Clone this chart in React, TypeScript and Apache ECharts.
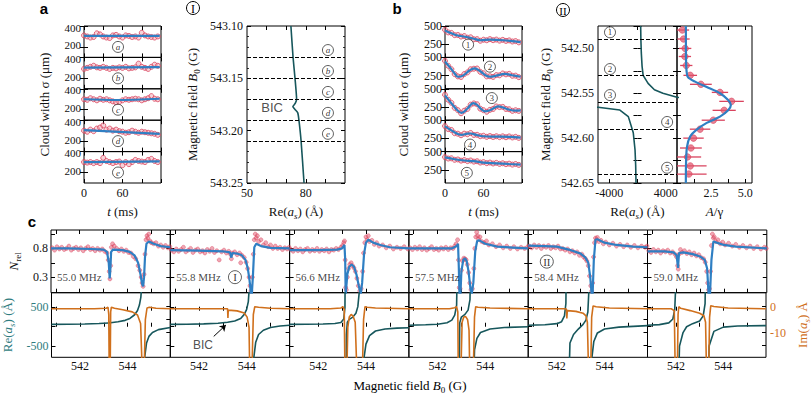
import React, { useEffect, useRef } from "react";
import * as echarts from "echarts";

const SERIF = '"Liberation Serif", "Times New Roman", serif';
const SANS = '"Liberation Sans", Arial, sans-serif';
const INK = "#111";
const TEAL = "#17575c";
const TEAL_TXT = "#2f7c80";
const ORANGE = "#d0701c";
const BLUE = "#2f7fc3";
const RED = "#d9435e";

// ---------- panel a ----------
const T_MS = [0, 5, 10, 15, 20, 25, 30, 35, 40, 45, 50, 55, 60, 65, 70, 75, 80, 85, 90, 95, 100, 105, 110, 115];
const A_RED = [
  [310, 300, 290, 295, 330, 320, 300, 290, 285, 310, 315, 300, 290, 310, 305, 295, 300, 290, 335, 310, 300, 295, 290, 300],
  [290, 300, 310, 320, 305, 300, 310, 300, 290, 300, 295, 305, 300, 310, 295, 300, 305, 340, 310, 300, 290, 310, 330, 320],
  [300, 295, 310, 300, 290, 305, 295, 300, 290, 280, 270, 275, 290, 300, 295, 300, 305, 300, 290, 300, 310, 330, 305, 300],
  [300, 290, 310, 295, 320, 330, 350, 310, 320, 300, 310, 295, 290, 280, 285, 300, 290, 280, 290, 285, 280, 275, 270, 260],
  [300, 295, 300, 290, 300, 290, 340, 310, 300, 290, 300, 305, 270, 300, 280, 300, 320, 310, 305, 300, 320, 330, 310, 300],
];
const A_FIT = [
  [[0, 305], [118, 305]],
  [[0, 303], [118, 308]],
  [[0, 300], [50, 293], [118, 305]],
  [[0, 305], [118, 270]],
  [[0, 300], [118, 307]],
];
const A_LETTERS = ["a", "b", "c", "d", "e"];
const A_TAG_AT = [53, 200];

// ---------- panel b ----------
const B_RED = [
  [448, 412, 405, 375, 377, 355, 362, 340, 345, 318, 320, 298, 312, 305, 320, 306, 314, 300, 310, 296, 303, 288, 293, 276],
  [452, 385, 338, 272, 240, 232, 272, 295, 338, 345, 348, 302, 282, 240, 242, 233, 258, 255, 280, 268, 275, 248, 250, 230],
  [418, 350, 308, 240, 208, 165, 200, 225, 283, 300, 288, 228, 207, 186, 212, 224, 258, 250, 252, 224, 220, 198, 206, 197],
  [420, 378, 366, 322, 315, 294, 316, 308, 325, 298, 300, 281, 287, 272, 283, 270, 280, 268, 279, 267, 278, 264, 272, 258],
  [425, 405, 408, 388, 392, 376, 384, 370, 378, 363, 368, 350, 356, 342, 350, 337, 346, 332, 340, 328, 335, 322, 330, 318],
];
const B_FIT = [
  [[0, 440], [10, 400], [18, 373], [34, 350], [45, 325], [55, 305], [70, 314], [91, 305], [112, 285], [118, 280]],
  [[0, 445], [8, 360], [15, 280], [20, 235], [28, 250], [38, 320], [46, 350], [55, 310], [63, 255], [70, 235], [80, 250], [93, 275], [105, 255], [118, 235]],
  [[0, 410], [10, 300], [20, 200], [26, 170], [35, 230], [44, 305], [50, 280], [56, 225], [62, 192], [70, 205], [78, 245], [83, 258], [90, 245], [100, 215], [110, 200], [118, 205]],
  [[0, 415], [10, 360], [20, 310], [25, 300], [35, 315], [40, 318], [50, 295], [60, 280], [80, 275], [100, 272], [118, 262]],
  [[0, 420], [15, 395], [30, 378], [45, 370], [60, 350], [80, 340], [100, 330], [118, 322]],
];
const B_NUMS = ["1", "2", "3", "4", "5"];
const B_TAG_AT = [[36, 245], [70, 373], [73, 373], [39, 166], [34, 209]];

// ---------- panel I ----------
const I_RE_LINE = [[72.4, 543.1], [73.5, 543.13], [74.5, 543.15], [75.3, 543.17], [74.6, 543.174], [73.4, 543.177], [74.6, 543.18], [75.9, 543.183], [76.5, 543.19], [77.6, 543.21], [79.1, 543.25]];
const I_DASH = [543.13, 543.15, 543.17, 543.19, 543.21];
const I_LETTER_B = [543.123, 543.143, 543.163, 543.183, 543.203];
const I_LETTER_RE = 91.3;
const I_BIC_AT = [62.8, 543.178];

// ---------- panel II ----------
const II_RE_LINE: any[] = [
  [450, 542.475], [480, 542.49], [540, 542.505], [650, 542.52], [800, 542.53], [1500, 542.539], [2400, 542.546], [3600, 542.55], [5600, 542.5545], [7000, 542.5555],
  ["-", "-"],
  [-7000, 542.565], [-5600, 542.5656], [-2500, 542.5687], [-1300, 542.576], [-600, 542.594], [-350, 542.613], [-260, 542.63], [-210, 542.65],
];
const II_DASH = [542.49, 542.53, 542.56, 542.59, 542.64];
const II_TAGS = [[-3900, 542.482], [-3900, 542.523], [-3900, 542.552], [4200, 542.582], [4200, 542.633]];
const AG_B = [542.4795, 542.4895, 542.5, 542.509, 542.519, 542.53, 542.54, 542.549, 542.559, 542.569, 542.58, 542.59, 542.6, 542.611, 542.621, 542.631, 542.64];
const AG_VAL = [0.39, 0.48, 0.6, 0.58, 0.68, 0.97, 1.75, 3.15, 4.0, 3.46, 2.66, 1.69, 1.21, 1.02, 0.77, 0.97, 0.87];
const AG_ERR = [0.5, 0.45, 0.45, 0.45, 0.45, 0.5, 0.8, 0.6, 0.9, 0.85, 0.85, 0.75, 0.75, 0.8, 1.0, 1.2, 1.3];
const AG_FIT = [[0.65, 542.475], [0.66, 542.51], [0.7, 542.525], [0.8, 542.532], [1.33, 542.537], [2.18, 542.543], [3.15, 542.55], [3.75, 542.5575], [3.95, 542.563], [3.75, 542.569], [3.15, 542.576], [2.18, 542.583], [1.4, 542.591], [0.97, 542.598], [0.73, 542.61], [0.66, 542.63], [0.65, 542.65]];

// ---------- panel c ----------
const C_FREQ = ["55.0 MHz", "55.8 MHz", "56.6 MHz", "57.5 MHz", "58.4 MHz", "59.0 MHz"];
const C_RED = [
  [[540.85, 0.81], [540.95, 0.77], [541.05, 0.83], [541.15, 0.79], [541.25, 0.82], [541.35, 0.78], [541.45, 0.8], [541.55, 0.84], [541.65, 0.77], [541.75, 0.8], [541.85, 0.82], [541.95, 0.78], [542.05, 0.81], [542.15, 0.76], [542.25, 0.8], [542.35, 0.83], [542.45, 0.78], [542.55, 0.8], [542.65, 0.76], [542.75, 0.8], [542.85, 0.77], [542.95, 0.79], [543.05, 0.75], [543.15, 0.72], [543.2, 0.6], [543.24, 0.4], [543.27, 0.27], [543.3, 0.5], [543.33, 0.82], [543.38, 0.88], [543.45, 0.84], [543.55, 0.8], [543.65, 0.76], [543.75, 0.79], [543.85, 0.75], [543.95, 0.77], [544.05, 0.73], [544.15, 0.72], [544.25, 0.66], [544.35, 0.62], [544.45, 0.5], [544.52, 0.42], [544.58, 0.3], [544.62, 0.2], [544.66, 0.14], [544.7, 0.35], [544.74, 0.7], [544.78, 0.95], [544.82, 1.02], [544.86, 0.98], [544.9, 1.05], [544.95, 0.93], [545.0, 0.9], [545.1, 0.88], [545.2, 0.9], [545.3, 0.84], [545.4, 0.86], [545.5, 0.82], [545.6, 0.85], [545.7, 0.81], [545.78, 0.83]],
  [[540.85, 0.77], [540.95, 0.74], [541.05, 0.79], [541.15, 0.75], [541.25, 0.78], [541.35, 0.82], [541.45, 0.74], [541.55, 0.77], [541.65, 0.8], [541.75, 0.73], [541.85, 0.77], [541.95, 0.79], [542.05, 0.74], [542.15, 0.76], [542.25, 0.72], [542.35, 0.78], [542.45, 0.75], [542.55, 0.8], [542.65, 0.73], [542.75, 0.76], [542.85, 0.6], [542.95, 0.74], [543.05, 0.77], [543.15, 0.72], [543.25, 0.75], [543.32, 0.7], [543.36, 0.62], [543.4, 0.72], [543.5, 0.74], [543.6, 0.69], [543.7, 0.72], [543.75, 0.55], [543.8, 0.68], [543.9, 0.64], [543.98, 0.56], [544.04, 0.45], [544.1, 0.3], [544.14, 0.15], [544.18, 0.06], [544.24, 0.3], [544.28, 0.7], [544.32, 0.95], [544.36, 1.05], [544.4, 0.98], [544.45, 1.02], [544.5, 0.92], [544.6, 0.95], [544.7, 0.86], [544.8, 0.9], [544.9, 0.83], [545.0, 0.86], [545.1, 0.8], [545.2, 0.84], [545.3, 0.8], [545.4, 0.82], [545.5, 0.78], [545.6, 0.81], [545.7, 0.79], [545.78, 0.82]],
  [[540.85, 0.78], [540.95, 0.75], [541.05, 0.8], [541.15, 0.76], [541.25, 0.79], [541.35, 0.74], [541.45, 0.78], [541.55, 0.8], [541.65, 0.75], [541.75, 0.78], [541.85, 0.76], [541.95, 0.8], [542.05, 0.75], [542.15, 0.78], [542.25, 0.76], [542.35, 0.79], [542.45, 0.74], [542.55, 0.78], [542.65, 0.77], [542.75, 0.8], [542.85, 0.78], [542.95, 0.82], [543.02, 0.85], [543.07, 0.9], [543.1, 0.93], [543.13, 0.6], [543.15, 0.12], [543.18, 0.08], [543.22, 0.3], [543.27, 0.45], [543.32, 0.52], [543.38, 0.55], [543.44, 0.5], [543.5, 0.46], [543.56, 0.4], [543.62, 0.28], [543.68, 0.15], [543.74, 0.06], [543.8, 0.1], [543.86, 0.4], [543.9, 0.72], [543.95, 0.9], [544.0, 1.0], [544.05, 0.95], [544.1, 1.02], [544.15, 0.92], [544.25, 0.94], [544.35, 0.87], [544.45, 0.9], [544.55, 0.84], [544.7, 0.86], [544.85, 0.81], [545.0, 0.84], [545.15, 0.79], [545.3, 0.82], [545.45, 0.8], [545.6, 0.83], [545.75, 0.79]],
  [[540.85, 0.81], [540.95, 0.78], [541.05, 0.82], [541.15, 0.79], [541.25, 0.83], [541.35, 0.78], [541.45, 0.81], [541.55, 0.77], [541.65, 0.8], [541.75, 0.83], [541.85, 0.78], [541.95, 0.8], [542.05, 0.77], [542.15, 0.81], [542.25, 0.79], [542.35, 0.82], [542.45, 0.78], [542.55, 0.81], [542.65, 0.8], [542.72, 0.84], [542.78, 0.88], [542.84, 0.95], [542.88, 0.6], [542.91, 0.12], [542.95, 0.1], [543.0, 0.42], [543.05, 0.58], [543.1, 0.63], [543.15, 0.62], [543.2, 0.6], [543.25, 0.52], [543.3, 0.38], [543.35, 0.2], [543.4, 0.08], [543.46, 0.1], [543.52, 0.45], [543.56, 0.8], [543.6, 1.0], [543.64, 1.08], [543.68, 1.02], [543.72, 0.96], [543.78, 1.0], [543.85, 0.92], [543.95, 0.9], [544.05, 0.93], [544.15, 0.86], [544.3, 0.88], [544.45, 0.83], [544.6, 0.86], [544.75, 0.81], [544.9, 0.84], [545.05, 0.8], [545.2, 0.83], [545.35, 0.79], [545.5, 0.82], [545.65, 0.8], [545.78, 0.83]],
  [[540.85, 0.84], [540.95, 0.81], [541.05, 0.86], [541.15, 0.82], [541.25, 0.85], [541.35, 0.8], [541.45, 0.84], [541.55, 0.82], [541.65, 0.85], [541.75, 0.8], [541.85, 0.83], [541.95, 0.81], [542.05, 0.84], [542.15, 0.79], [542.25, 0.8], [542.35, 0.77], [542.45, 0.79], [542.55, 0.74], [542.65, 0.76], [542.75, 0.72], [542.85, 0.74], [542.95, 0.68], [543.05, 0.7], [543.12, 0.65], [543.2, 0.62], [543.26, 0.58], [543.32, 0.5], [543.37, 0.32], [543.42, 0.15], [543.46, 0.06], [543.5, 0.2], [543.54, 0.65], [543.58, 0.9], [543.62, 0.98], [543.66, 0.95], [543.7, 0.99], [543.76, 0.92], [543.85, 0.94], [543.95, 0.88], [544.05, 0.91], [544.2, 0.86], [544.35, 0.89], [544.5, 0.84], [544.65, 0.87], [544.8, 0.83], [544.95, 0.86], [545.1, 0.82], [545.25, 0.85], [545.4, 0.81], [545.55, 0.84], [545.7, 0.82], [545.78, 0.84]],
  [[540.85, 0.76], [540.95, 0.73], [541.05, 0.78], [541.15, 0.74], [541.25, 0.77], [541.35, 0.72], [541.45, 0.76], [541.55, 0.74], [541.65, 0.77], [541.75, 0.72], [541.85, 0.74], [541.95, 0.7], [542.02, 0.65], [542.06, 0.5], [542.09, 0.44], [542.12, 0.7], [542.18, 0.78], [542.25, 0.73], [542.35, 0.76], [542.45, 0.71], [542.55, 0.74], [542.65, 0.69], [542.75, 0.72], [542.85, 0.67], [542.95, 0.69], [543.05, 0.64], [543.15, 0.62], [543.22, 0.56], [543.28, 0.4], [543.32, 0.2], [543.36, 0.08], [543.4, 0.1], [543.44, 0.4], [543.48, 0.85], [543.52, 1.05], [543.56, 0.98], [543.6, 1.0], [543.66, 0.92], [543.75, 0.95], [543.85, 0.88], [543.95, 0.91], [544.05, 0.86], [544.2, 0.89], [544.35, 0.84], [544.5, 0.87], [544.65, 0.82], [544.8, 0.85], [544.95, 0.81], [545.1, 0.84], [545.25, 0.8], [545.4, 0.83], [545.55, 0.79], [545.7, 0.82], [545.78, 0.8]],
];
const C_FIT = [
  [[540.8, 0.8], [541.5, 0.8], [542.5, 0.79], [543.0, 0.78], [543.15, 0.74], [543.22, 0.55], [543.26, 0.28], [543.29, 0.45], [543.32, 0.74], [543.4, 0.78], [543.8, 0.77], [544.1, 0.74], [544.3, 0.68], [544.45, 0.55], [544.55, 0.35], [544.62, 0.18], [544.66, 0.14], [544.7, 0.3], [544.74, 0.65], [544.8, 0.88], [544.9, 0.92], [545.1, 0.88], [545.4, 0.84], [545.8, 0.82]],
  [[540.8, 0.77], [542.0, 0.76], [543.0, 0.75], [543.3, 0.73], [543.36, 0.64], [543.4, 0.72], [543.6, 0.71], [543.8, 0.68], [543.95, 0.6], [544.05, 0.45], [544.12, 0.25], [544.17, 0.05], [544.2, -0.1], [544.26, 0.3], [544.32, 0.82], [544.4, 0.88], [544.6, 0.84], [545.0, 0.81], [545.8, 0.8]],
  [[540.8, 0.77], [542.0, 0.77], [542.8, 0.78], [543.0, 0.8], [543.1, 0.86], [543.13, 0.6], [543.15, 0.0], [543.17, 0.0], [543.22, 0.35], [543.3, 0.48], [543.4, 0.52], [543.5, 0.48], [543.6, 0.35], [543.7, 0.15], [543.78, 0.0], [543.84, 0.2], [543.92, 0.7], [544.0, 0.9], [544.1, 0.95], [544.3, 0.9], [544.6, 0.86], [545.0, 0.82], [545.8, 0.8]],
  [[540.8, 0.8], [542.0, 0.8], [542.6, 0.8], [542.8, 0.84], [542.86, 0.88], [542.89, 0.5], [542.92, 0.0], [542.96, 0.0], [543.0, 0.4], [543.08, 0.6], [543.15, 0.63], [543.22, 0.58], [543.3, 0.4], [543.38, 0.1], [543.43, 0.0], [543.5, 0.2], [543.58, 0.75], [543.66, 0.93], [543.75, 0.94], [544.0, 0.88], [544.5, 0.83], [545.8, 0.8]],
  [[540.8, 0.85], [541.5, 0.84], [542.0, 0.83], [542.5, 0.78], [543.0, 0.71], [543.2, 0.64], [543.32, 0.55], [543.4, 0.3], [543.46, 0.0], [543.5, 0.0], [543.55, 0.6], [543.62, 0.95], [543.7, 0.96], [544.0, 0.9], [544.5, 0.86], [545.2, 0.83], [545.8, 0.82]],
  [[540.8, 0.75], [541.5, 0.75], [541.9, 0.73], [542.02, 0.68], [542.08, 0.46], [542.12, 0.72], [542.3, 0.73], [542.7, 0.7], [543.0, 0.66], [543.2, 0.6], [543.3, 0.45], [543.36, 0.0], [543.42, 0.0], [543.48, 0.6], [543.56, 0.92], [543.7, 0.9], [544.0, 0.86], [544.5, 0.83], [545.8, 0.8]],
];
const C_RE: any[] = [
  [[540.8, 60], [541.5, 65], [542.2, 72], [542.8, 85], [543.2, 98], [543.26, 100], [543.27, 135], [543.29, 104], [543.6, 130], [543.9, 165], [544.1, 215], [544.3, 310], [544.42, 420], [544.5, 560], [544.56, 760], [544.6, 1100], [544.63, 2500], [544.64, "-"], [544.68, -2500], [544.72, -800], [544.8, -420], [544.9, -250], [545.05, -150], [545.3, -75], [545.8, -20]],
  [[540.8, 60], [541.5, 66], [542.2, 75], [542.8, 92], [543.2, 115], [543.5, 150], [543.75, 215], [543.9, 320], [544.0, 450], [544.07, 650], [544.12, 1100], [544.15, 2500], [544.16, "-"], [544.2, -2500], [544.3, -800], [544.38, -400], [544.5, -200], [544.7, -90], [545.0, -20], [545.4, 20], [545.8, 40]],
  [[540.8, 60], [541.5, 63], [542.2, 70], [542.7, 82], [542.95, 110], [543.07, 200], [543.12, 500], [543.14, 2500], [543.145, "-"], [543.155, -2500], [543.18, -200], [543.22, 120], [543.3, 190], [543.45, 250], [543.58, 350], [543.66, 520], [543.72, 900], [543.76, 2500], [543.77, "-"], [543.81, -2500], [543.92, -800], [544.0, -450], [544.15, -230], [544.4, -110], [544.8, -60], [545.3, -35], [545.8, -25]],
  [[540.8, 40], [541.5, 50], [542.0, 65], [542.4, 105], [542.6, 170], [542.72, 300], [542.8, 560], [542.85, 2500], [542.86, "-"], [542.89, -2500], [542.93, 100], [543.0, 250], [543.15, 320], [543.28, 430], [543.36, 700], [543.41, 2500], [543.42, "-"], [543.47, -2500], [543.55, -600], [543.65, -300], [543.8, -150], [544.2, -60], [544.8, -20], [545.8, 0]],
  [[540.8, 40], [541.5, 52], [542.0, 80], [542.2, 130], [542.32, 280], [542.38, 600], [542.41, 2500], [542.42, "-"], [542.46, -2500], [542.55, -420], [542.7, -200], [542.9, -60], [543.1, 60], [543.22, 170], [543.3, 380], [543.34, 900], [543.36, 2500], [543.37, "-"], [543.41, -2500], [543.47, -800], [543.55, -380], [543.7, -160], [544.0, -60], [544.6, -10], [545.8, 30]],
  [[540.8, 40], [541.3, 55], [541.7, 100], [541.87, 200], [541.95, 450], [542.0, 1200], [542.02, 2500], [542.03, "-"], [542.07, -2500], [542.15, -500], [542.3, -150], [542.45, 0], [542.7, 80], [543.0, 150], [543.15, 280], [543.23, 600], [543.27, 2500], [543.28, "-"], [543.32, -2500], [543.4, -500], [543.6, -120], [544.0, -10], [544.6, 20], [545.8, 30]],
];
const C_IM = [
  [[540.8, -0.8], [542.6, -0.8], [543.1, -0.6], [543.18, -0.2], [543.21, -3], [543.23, -25], [543.27, -25], [543.29, -2], [543.32, -0.2], [543.45, -0.6], [543.8, -1.2], [544.2, -2.0], [544.42, -3.2], [544.55, -6.5], [544.62, -25], [544.7, -25], [544.75, -5], [544.82, -0.5], [544.92, -0.2], [545.2, -0.6], [545.8, -0.8]],
  [[540.8, -0.8], [542.6, -0.8], [543.2, -0.8], [543.215, -4.3], [543.23, -1.3], [543.6, -1.6], [543.9, -2.4], [544.02, -4], [544.1, -8], [544.13, -25], [544.22, -25], [544.28, -3], [544.34, 0], [544.5, -0.2], [545.0, -0.6], [545.8, -0.8]],
  [[540.8, -0.8], [542.5, -0.8], [542.95, -0.5], [543.04, 0], [543.09, -1], [543.12, -25], [543.2, -25], [543.24, -8], [543.3, -4], [543.38, -3], [543.46, -3.6], [543.55, -6], [543.62, -25], [543.85, -25], [543.9, -5], [543.96, 0], [544.05, -0.2], [544.4, -0.5], [545.8, -0.8]],
  [[540.8, -0.8], [542.5, -0.8], [542.72, -0.4], [542.8, 0], [542.85, -2], [542.87, -25], [542.98, -25], [543.03, -6], [543.1, -4], [543.18, -3.8], [543.26, -5], [543.32, -9], [543.35, -25], [543.5, -25], [543.55, -4], [543.6, 0], [543.7, -0.2], [544.2, -0.5], [545.8, -0.8]],
  [[540.8, -0.8], [542.3, -0.8], [542.4, -0.9], [542.42, -4.5], [542.44, -1.5], [542.8, -1.8], [543.1, -2.5], [543.22, -3.5], [543.28, -6], [543.33, -25], [543.42, -25], [543.46, -4], [543.52, 0.3], [543.65, 0], [544.2, -0.5], [545.8, -0.8]],
  [[540.8, -0.8], [541.8, -0.8], [541.93, -1.5], [541.97, -25], [542.06, -25], [542.09, -3], [542.12, 0], [542.2, -0.6], [542.6, -1.5], [543.0, -2.5], [543.18, -3.5], [543.25, -6], [543.29, -25], [543.38, -25], [543.42, -4], [543.47, 0.4], [543.6, 0.1], [544.2, -0.5], [545.8, -0.8]],
];
const C_ROMAN_TAGS = [null, { text: "I", at: [543.51, 0.3] }, null, null, { text: "II", at: [541.58, 0.57] }, null];
const C_BIC_TEXT_AT = [542.17, -472];
const C_BIC_ARROW = [[542.62, -250], [543.13, 45]];

// ---------- helpers ----------
function rich(color: string, size = 13) {
  const sub = Math.round(size * 0.72);
  return {
    r: { fontFamily: SERIF, fontSize: size, color, lineHeight: 18 },
    i: { fontFamily: SERIF, fontSize: size, fontStyle: "italic", color, lineHeight: 18 },
    s: { fontFamily: SERIF, fontSize: sub, color, lineHeight: 10, verticalAlign: "bottom" },
    si: { fontFamily: SERIF, fontSize: sub, fontStyle: "italic", color, lineHeight: 10, verticalAlign: "bottom" },
  };
}
const NAME_B = "{r|Magnetic field }{i|B}{s|0}{r| (G)}";
const NAME_RE = "{r|Re(}{i|a}{si|s}{r|) (Å)}";
const NAME_IM = "{r|Im(}{i|a}{si|s}{r|) Å}";
const NAME_T = "{i|t}{r| (ms)}";
const NAME_SIGMA = "{r|Cloud width σ (μm)}";
const NAME_N = "{i|N}{s|rel}";
const NAME_AG = "{i|A}{r|/γ}";

function ax(gi: number, position: string, min: number, max: number, o: any = {}) {
  const color = o.color || INK;
  return {
    type: "value",
    gridIndex: gi,
    position,
    min,
    max,
    inverse: !!o.inverse,
    interval: o.interval,
    name: o.name || "",
    nameLocation: "middle",
    nameGap: o.nameGap || 20,
    nameRotate: o.nameRotate,
    nameTextStyle: { fontFamily: SERIF, fontSize: 13, color, rich: rich(color) },
    axisLine: { show: false },
    splitLine: { show: false },
    axisTick: {
      show: true,
      inside: true,
      length: 4,
      lineStyle: { color: "#000", width: 1 },
      customValues: o.tickValues,
    },
    minorTick: o.minor
      ? { show: true, splitNumber: o.minor, length: 2, lineStyle: { color: "#000", width: 0.8 } }
      : { show: false },
    axisLabel: {
      show: !!o.labels,
      customValues: o.labelValues,
      formatter: o.formatter || ((v: number) => String(v)),
      fontFamily: SERIF,
      fontSize: o.fontSize || 12,
      color,
      margin: o.margin ?? 4,
      rich: o.labelRich,
    },
  };
}

function tagSeries(xi: number, yi: number, at: number[], text: string, italic: boolean, size = 11) {
  return {
    type: "scatter",
    xAxisIndex: xi,
    yAxisIndex: yi,
    data: [at],
    symbol: "circle",
    symbolSize: size,
    silent: true,
    z: 6,
    itemStyle: { color: "#fff", borderColor: "#000", borderWidth: 0.8 },
    label: {
      show: true,
      position: "inside",
      formatter: text,
      fontFamily: SERIF,
      fontStyle: italic ? "italic" : "normal",
      fontSize: size - 2,
      color: "#000",
    },
  };
}

function textSeries(xi: number, yi: number, at: number[], text: string, font: any) {
  return {
    type: "scatter",
    xAxisIndex: xi,
    yAxisIndex: yi,
    data: [at],
    symbol: "circle",
    symbolSize: 1,
    silent: true,
    z: 6,
    itemStyle: { color: "rgba(0,0,0,0)" },
    label: { show: true, position: font.position || "inside", distance: 0, formatter: text, ...font },
  };
}

function buildOption() {
  const grids: any[] = [];
  const xAxes: any[] = [];
  const yAxes: any[] = [];
  const series: any[] = [];

  const addGrid = (l: number, t: number, w: number, h: number) => {
    grids.push({ left: l, top: t, width: w, height: h, show: true, borderColor: "#000", borderWidth: 1, backgroundColor: "rgba(0,0,0,0)" });
    return grids.length - 1;
  };
  const pushX = (a: any) => { xAxes.push(a); return xAxes.length - 1; };
  const pushY = (a: any) => { yAxes.push(a); return yAxes.length - 1; };

  const redScatter = {
    symbol: "circle",
    symbolSize: 5,
    itemStyle: { color: "rgba(238,150,165,0.55)", borderColor: RED, borderWidth: 1 },
  };

  // nudged tick labels for the tightly stacked panels of a
  const nudgeRich = {
    up: { fontFamily: SERIF, fontSize: 11, color: INK, padding: [0, 0, 3, 0] },
    dn: { fontFamily: SERIF, fontSize: 11, color: INK, padding: [3, 0, 0, 0] },
  };

  // ----- panels a and b -----
  const stackTop = 26;
  const stackH = 31.4;
  const stacks = [
    { left: 84, red: A_RED, fit: A_FIT, yMin: 100, yMax: 400, show: [200, 400], gap: 31, tags: A_LETTERS.map(() => A_TAG_AT), texts: A_LETTERS, italic: true, nudge: true },
    { left: 445, red: B_RED, fit: B_FIT, yMin: 70, yMax: 500, show: [250, 500], gap: 33, tags: B_TAG_AT, texts: B_NUMS, italic: false, nudge: false },
  ];
  stacks.forEach((st) => {
    for (let i = 0; i < 5; i++) {
      const g = addGrid(st.left, stackTop + i * stackH, 77, stackH);
      const xi = pushX(ax(g, "bottom", 0, 120, {
        interval: 30,
        labels: i === 4,
        formatter: (v: number) => (v === 0 || v === 60 ? String(v) : ""),
        name: i === 4 ? NAME_T : "",
        nameGap: 19,
      }));
      pushX(ax(g, "top", 0, 120, { interval: 30 }));
      const yOpts: any = {
        labels: true,
        labelValues: st.show,
        tickValues: st.show,
        name: i === 2 ? NAME_SIGMA : "",
        nameGap: st.gap,
        nameRotate: 90,
        margin: 3,
      };
      if (st.nudge) {
        yOpts.formatter = (v: number) => (v === st.show[1] ? `{dn|${v}}` : `{up|${v}}`);
        yOpts.labelRich = nudgeRich;
        yOpts.fontSize = 11;
      }
      const yi = pushY(ax(g, "left", st.yMin, st.yMax, yOpts));
      pushY(ax(g, "right", st.yMin, st.yMax, { tickValues: st.show }));
      series.push({
        type: "scatter", xAxisIndex: xi, yAxisIndex: yi, silent: true, z: 2,
        data: T_MS.map((t, k) => [t, st.red[i][k]]),
        ...redScatter,
      });
      series.push({
        type: "line", xAxisIndex: xi, yAxisIndex: yi, silent: true, z: 3,
        data: st.fit[i], showSymbol: false, smooth: 0.35,
        lineStyle: { color: BLUE, width: 2.2 },
      });
      series.push(tagSeries(xi, yi, st.tags[i], st.texts[i], st.italic));
    }
  });

  // ----- panel I -----
  {
    const g = addGrid(247, 26, 98, 157);
    const xi = pushX(ax(g, "bottom", 50, 100, { labels: true, labelValues: [50, 80], tickValues: [60, 70, 80, 90], name: NAME_RE, nameGap: 19 }));
    pushX(ax(g, "top", 50, 100, { tickValues: [60, 70, 80, 90] }));
    const yi = pushY(ax(g, "left", 543.1, 543.25, {
      inverse: true, interval: 0.05, minor: 5, labels: true,
      formatter: (v: number) => v.toFixed(2), name: NAME_B, nameGap: 46, nameRotate: 90,
    }));
    pushY(ax(g, "right", 543.1, 543.25, { inverse: true, interval: 0.05, minor: 5 }));
    series.push({
      type: "line", xAxisIndex: xi, yAxisIndex: yi, silent: true, z: 3,
      data: I_RE_LINE, showSymbol: false, smooth: 0.2,
      lineStyle: { color: TEAL, width: 1.6 },
      markLine: {
        silent: true, symbol: ["none", "none"], label: { show: false },
        lineStyle: { type: "dashed", color: "#000", width: 1 },
        data: I_DASH.map((v) => ({ yAxis: v })),
      },
    });
    I_LETTER_B.forEach((b, k) => series.push(tagSeries(xi, yi, [I_LETTER_RE, b], A_LETTERS[k], true)));
    series.push(textSeries(xi, yi, I_BIC_AT, "BIC", { fontFamily: SANS, fontSize: 13, color: "#222" }));
  }

  // ----- panel II -----
  {
    const g = addGrid(598, 26, 79, 157);
    const xi = pushX(ax(g, "bottom", -5600, 5600, { labels: true, labelValues: [-4000, 4000], tickValues: [-4000, 0, 4000], name: NAME_RE, nameGap: 19 }));
    pushX(ax(g, "top", -5600, 5600, { tickValues: [-4000, 0, 4000] }));
    const fmt = (v: number) => {
      const k = v * 20;
      return Math.abs(k - Math.round(k)) < 1e-4 ? v.toFixed(2) : "";
    };
    const yi = pushY(ax(g, "left", 542.475, 542.65, {
      inverse: true, interval: 0.025, labels: true, formatter: fmt, name: NAME_B, nameGap: 44, nameRotate: 90,
    }));
    pushY(ax(g, "right", 542.475, 542.65, { inverse: true, interval: 0.025 }));
    series.push({
      type: "line", xAxisIndex: xi, yAxisIndex: yi, silent: true, z: 3,
      data: II_RE_LINE, showSymbol: false, connectNulls: false,
      lineStyle: { color: TEAL, width: 1.6 },
      markLine: {
        silent: true, symbol: ["none", "none"], label: { show: false },
        lineStyle: { type: "dashed", color: "#000", width: 1 },
        data: II_DASH.map((v) => ({ yAxis: v })),
      },
    });
    II_TAGS.forEach((p, k) => series.push(tagSeries(xi, yi, p, B_NUMS[k], false)));

    const g2 = addGrid(677, 26, 75, 157);
    const xi2 = pushX(ax(g2, "bottom", 0, 5.5, { labels: true, labelValues: [2.5, 5], tickValues: [1.25, 2.5, 3.75, 5], formatter: (v: number) => v.toFixed(1), name: NAME_AG, nameGap: 19 }));
    pushX(ax(g2, "top", 0, 5.5, { tickValues: [1.25, 2.5, 3.75, 5] }));
    const yi2 = pushY(ax(g2, "left", 542.475, 542.65, { inverse: true, interval: 0.025 }));
    pushY(ax(g2, "right", 542.475, 542.65, { inverse: true, interval: 0.025 }));
    series.push({
      type: "custom", xAxisIndex: xi2, yAxisIndex: yi2, silent: true, z: 2, clip: true,
      data: AG_B.map((b, k) => [AG_VAL[k], b, AG_ERR[k]]),
      encode: { x: 0, y: 1 },
      renderItem: (params: any, api: any) => {
        const v = api.value(0);
        const b = api.value(1);
        const e = api.value(2);
        const p1 = api.coord([v - e, b]);
        const p2 = api.coord([v + e, b]);
        return {
          type: "line",
          shape: { x1: p1[0], y1: p1[1], x2: p2[0], y2: p2[1] },
          style: { stroke: RED, lineWidth: 1.3 },
        };
      },
    });
    series.push({
      type: "scatter", xAxisIndex: xi2, yAxisIndex: yi2, silent: true, z: 3,
      data: AG_B.map((b, k) => [AG_VAL[k], b]),
      symbol: "circle", symbolSize: 6.5,
      itemStyle: { color: "rgba(225,85,108,0.9)", borderColor: RED, borderWidth: 0.8 },
    });
    series.push({
      type: "line", xAxisIndex: xi2, yAxisIndex: yi2, silent: true, z: 4,
      data: AG_FIT, showSymbol: false, smooth: 0.3,
      lineStyle: { color: BLUE, width: 2.2 },
    });
  }

  // ----- panel c -----
  const C_LEFT = [51, 170.3, 289.6, 408.9, 528.2, 647.5];
  const cW = 119.3;
  C_LEFT.forEach((left, k) => {
    // top row
    const g = addGrid(left, 230, cW, 62.7);
    const xi = pushX(ax(g, "bottom", 540.8, 545.8, { tickValues: [541, 542, 543, 544, 545] }));
    pushX(ax(g, "top", 540.8, 545.8, { tickValues: [541, 542, 543, 544, 545] }));
    const yi = pushY(ax(g, "left", 0.03, 1.12, {
      labels: k === 0, labelValues: [0.3, 0.8], tickValues: [0.3, 0.55, 0.8, 1.05],
      name: k === 0 ? NAME_N : "", nameGap: 29, nameRotate: 90, margin: 3,
    }));
    pushY(ax(g, "right", 0.03, 1.12, { tickValues: [0.3, 0.55, 0.8, 1.05] }));
    series.push({
      type: "scatter", xAxisIndex: xi, yAxisIndex: yi, silent: true, z: 2,
      data: C_RED[k], symbol: "circle", symbolSize: 4,
      itemStyle: { color: "rgba(222,72,98,0.6)", borderColor: "rgba(215,60,88,0.8)", borderWidth: 0.6 },
    });
    series.push({
      type: "line", xAxisIndex: xi, yAxisIndex: yi, silent: true, z: 3,
      data: C_FIT[k], showSymbol: false, lineStyle: { color: BLUE, width: 2.2 },
    });
    series.push(textSeries(xi, yi, [541.03, 0.3], C_FREQ[k], { position: "right", fontFamily: SERIF, fontSize: 11, color: "#111" }));
    const rt = C_ROMAN_TAGS[k];
    if (rt) series.push(tagSeries(xi, yi, rt.at, rt.text, false, 13));

    // bottom row
    const gb = addGrid(left, 292.7, cW, 64.6);
    const xib = pushX(ax(gb, "bottom", 540.8, 545.8, {
      labels: true, labelValues: [542, 544], tickValues: [541, 542, 543, 544, 545], margin: 3,
    }));
    pushX(ax(gb, "top", 540.8, 545.8, { tickValues: [541, 542, 543, 544, 545] }));
    const yiRe = pushY(ax(gb, "left", -790, 880, {
      labels: k === 0, labelValues: [-500, 500], tickValues: [-500, 0, 500], color: TEAL_TXT,
      name: k === 0 ? NAME_RE : "", nameGap: 35, nameRotate: 90, margin: 3,
    }));
    const yiIm = pushY(ax(gb, "right", -19.5, 5.4, {
      labels: k === 5, labelValues: [-10, 0], tickValues: [-15, -10, -5, 0], color: ORANGE,
      name: k === 5 ? NAME_IM : "", nameGap: 27, nameRotate: 90, margin: 4,
    }));
    const teal: any = {
      type: "line", xAxisIndex: xib, yAxisIndex: yiRe, silent: true, z: 3,
      data: C_RE[k], showSymbol: false, connectNulls: false,
      lineStyle: { color: TEAL, width: 1.6 },
    };
    if (k === 1) {
      teal.markLine = {
        silent: true, symbol: ["none", "arrow"], symbolSize: 6,
        label: { show: false },
        lineStyle: { type: "solid", color: "#000", width: 1 },
        data: [[{ coord: C_BIC_ARROW[0] }, { coord: C_BIC_ARROW[1] }]],
      };
    }
    series.push(teal);
    series.push({
      type: "line", xAxisIndex: xib, yAxisIndex: yiIm, silent: true, z: 4,
      data: C_IM[k], showSymbol: false,
      lineStyle: { color: ORANGE, width: 1.6 },
    });
    if (k === 1) {
      series.push(textSeries(xib, yiRe, C_BIC_TEXT_AT, "BIC", { fontFamily: SANS, fontSize: 12, color: "#222" }));
    }
  });

  const txt = (x: number, y: number, text: string, font: string) => ({
    type: "text", x, y, silent: true,
    style: { text, font, fill: "#000", textAlign: "center", textVerticalAlign: "middle", align: "center", verticalAlign: "middle" },
  });
  const circ = (cx: number, cy: number, r: number) => ({
    type: "circle", silent: true, shape: { cx, cy, r },
    style: { fill: "none", stroke: "#000", lineWidth: 1 },
  });

  const graphic = [
    txt(44, 8, "a", `bold 15px ${SANS}`),
    circ(193, 8, 6.5),
    txt(193, 8.5, "I", `12px ${SERIF}`),
    txt(397, 8, "b", `bold 15px ${SANS}`),
    circ(563, 10, 6.5),
    txt(563, 10.5, "II", `11px ${SERIF}`),
    txt(32, 221, "c", `bold 15px ${SANS}`),
    {
      type: "text", x: 410, y: 385, silent: true,
      style: {
        text: NAME_B, rich: rich(INK), fill: "#000",
        textAlign: "center", textVerticalAlign: "middle", align: "center", verticalAlign: "middle",
      },
    },
  ];

  return {
    animation: false,
    backgroundColor: "#fff",
    textStyle: { fontFamily: SERIF },
    grid: grids,
    xAxis: xAxes,
    yAxis: yAxes,
    series,
    graphic,
  };
}

export default function App() {
  const ref = useRef<HTMLDivElement>(null);
  useEffect(() => {
    if (!ref.current) return;
    const chart = echarts.init(ref.current, null, { renderer: "svg" });
    chart.setOption(buildOption() as any);
    return () => chart.dispose();
  }, []);
  return (
    <div
      ref={ref}
      style={{ position: "absolute", left: 0, top: 0, width: 812, height: 394, background: "#fff" }}
    />
  );
}
